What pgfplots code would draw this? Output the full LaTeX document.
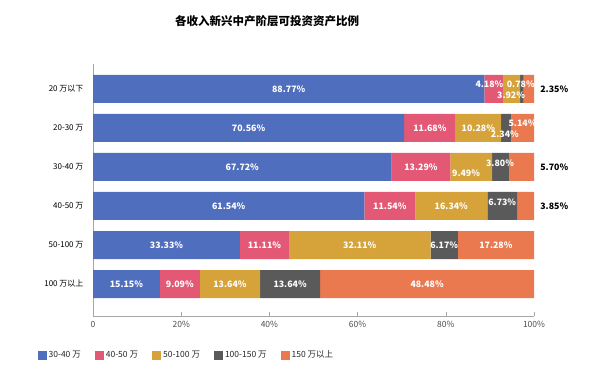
\documentclass[border=0pt]{standalone}
\usepackage{pgfplots}
\pgfplotsset{compat=1.18}
\usepackage{fontspec}
\setmainfont{Noto Sans CJK SC}
\definecolor{cBlue}{RGB}{80,110,190}
\definecolor{cPink}{RGB}{226,88,117}
\definecolor{cGold}{RGB}{214,162,58}
\definecolor{cGray}{RGB}{90,90,90}
\definecolor{cOrange}{RGB}{234,121,80}
\begin{document}
\begin{tikzpicture}[x=1pt,y=1pt]
\path[use as bounding box] (0,0) rectangle (600,391);
\node[font=\bfseries\fontsize{11.5}{13}\selectfont] at (267,370) {各收入新兴中产阶层可投资资产比例};
\pgfplotsset{common/.style={at={(93pt,75pt)}, anchor=south west, scale only axis,
  width=441pt, height=252pt, xmin=0, xmax=100, ymin=-0.82, ymax=5.64}}
\begin{axis}[common, xbar stacked, bar width=28pt,
  axis x line*=bottom, axis y line*=left,
  axis line style={draw=gray!70, line width=0.6pt},
  xtick={0,20,40,60,80,100}, xticklabels={0,20\%,40\%,60\%,80\%,100\%},
  ytick={0,1,2,3,4,5},
  yticklabels={100 万以上,50-100 万,40-50 万,30-40 万,20-30 万,20 万以下},
  xtick style={draw=gray!70, line width=0.6pt}, major tick length=4pt, tick align=inside,
  ytick style={draw=none},
  xticklabel style={font=\fontsize{8.5}{10}\selectfont, text=black!70, yshift=-2pt},
  yticklabel style={font=\fontsize{8}{10}\selectfont, text=black, xshift=-6pt},
  legend style={at={(-0.126,-0.155)}, anchor=west, draw=none, inner sep=0pt,
    font=\fontsize{8.5}{10}\selectfont, text=black!85,
    /tikz/every even column/.append style={column sep=12pt}},
  legend columns=5,
  legend image code/.code={\fill[#1] (0pt,-4.5pt) rectangle (9pt,4.5pt);},
]
\addplot[fill=cBlue, draw=none] coordinates {(15.15,0) (33.33,1) (61.54,2) (67.72,3) (70.56,4) (88.77,5)};
\addlegendentry{30-40 万}
\addplot[fill=cPink, draw=none] coordinates {(9.09,0) (11.11,1) (11.54,2) (13.29,3) (11.68,4) (4.18,5)};
\addlegendentry{40-50 万}
\addplot[fill=cGold, draw=none] coordinates {(13.64,0) (32.11,1) (16.34,2) (9.49,3) (10.28,4) (3.92,5)};
\addlegendentry{50-100 万}
\addplot[fill=cGray, draw=none] coordinates {(13.64,0) (6.17,1) (6.73,2) (3.80,3) (2.34,4) (0.78,5)};
\addlegendentry{100-150 万}
\addplot[fill=cOrange, draw=none] coordinates {(48.48,0) (17.28,1) (3.85,2) (5.70,3) (5.14,4) (2.35,5)};
\addlegendentry{150 万以上}
\end{axis}
\begin{axis}[common, hide axis, clip=false]
\addplot[draw=none, mark=none, nodes near coords, point meta=explicit symbolic,
  nodes near coords style={anchor=center, text=white, inner sep=0pt, font=\bfseries\fontsize{8.8}{10}\selectfont}]
coordinates {
(44.385,5) [88.77\%] (89.9,5.13) [4.18\%] (97.0,5.13) [0.78\%] (94.8,4.84) [3.92\%]
(35.28,4) [70.56\%] (76.40,4) [11.68\%] (87.38,4) [10.28\%] (93.4,3.84) [2.34\%] (97.4,4.13) [5.14\%]
(33.86,3) [67.72\%] (74.365,3) [13.29\%] (84.6,2.85) [9.49\%] (92.3,3.1) [3.80\%]
(30.77,2) [61.54\%] (67.31,2) [11.54\%] (81.25,2) [16.34\%] (92.8,2.1) [6.73\%]
(16.665,1) [33.33\%] (38.885,1) [11.11\%] (60.495,1) [32.11\%] (79.635,1) [6.17\%] (91.36,1) [17.28\%]
(7.575,0) [15.15\%] (19.695,0) [9.09\%] (31.06,0) [13.64\%] (44.70,0) [13.64\%] (75.76,0) [48.48\%]
};
\addplot[draw=none, mark=none, nodes near coords, point meta=explicit symbolic,
  nodes near coords style={anchor=west, text=black, inner sep=0pt, font=\bfseries\fontsize{8.8}{10}\selectfont}]
coordinates {(101.4,5) [2.35\%] (101.4,3) [5.70\%] (101.4,2) [3.85\%]};
\end{axis}
\end{tikzpicture}
\end{document}
